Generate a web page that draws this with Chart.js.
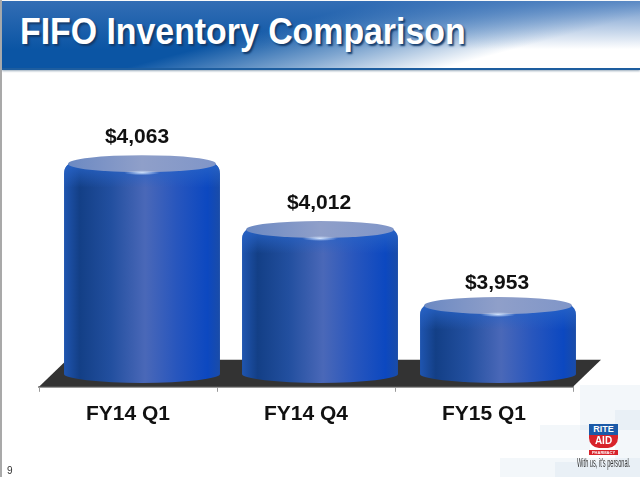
<!DOCTYPE html>
<html>
<head>
<meta charset="utf-8">
<title>FIFO Inventory Comparison</title>
<script src="https://cdn.jsdelivr.net/npm/chart.js@4/dist/chart.umd.min.js"></script>
<style>
  html, body { margin: 0; padding: 0; background: #fff; }
  #slide { position: relative; width: 640px; height: 477px; overflow: hidden; background: #fff; font-family: "Liberation Sans", Arial, sans-serif; }
  #edge { position: absolute; left: 0; top: 0; width: 2px; height: 477px; background: #a9a9a9; }
  #band {
    position: absolute; left: 2px; top: 1px; width: 638px; height: 67px;
    background:
      linear-gradient(to bottom, rgba(60,115,185,.8) 0, rgba(70,125,190,0) 72%),
      linear-gradient(165deg, #0b55a4 0, #0b55a4 42%, #7fa6d0 60%, #ffffff 78%);
    border-bottom: 2px solid #1d5d9f;
    box-shadow: 0 1px 2px #9ab;
  }
  #heading {
    position: absolute; left: 20px; top: 11px; color: #fff;
    font-weight: bold; font-size: 36px; line-height: 42px; white-space: nowrap; text-shadow: 2px 2px 2px #123a6b;
    transform: scaleX(0.94); transform-origin: left center;
  }
  #pageNo { position: absolute; left: 7px; top: 465px; font-size: 10px; color: #333; }
  .tile { position: absolute; background: #c9d9ea; opacity: .22; }
  #chart { position: absolute; left: 0; top: 0; }
  #logoRite { position: absolute; left: 589px; top: 424px; width: 29px; height: 11px; background: #1b5aa8; color: #fff; font: bold 9px/11px "Liberation Sans", sans-serif; text-align: center; }
  #logoAid { position: absolute; left: 589px; top: 435px; width: 29px; height: 13px; background: #d8232a; color: #fff; font: bold 10px/12px "Liberation Sans", sans-serif; text-align: center; border-radius: 0 0 10px 10px; }
  #logoPharmacy { position: absolute; left: 589px; top: 450px; width: 29px; height: 5px; background: #d8232a; color: #fff; font: bold 4px/5px "Liberation Sans", sans-serif; text-align: center; overflow: hidden; }
  #tagline { position: absolute; left: 577px; top: 457px; font: 12px/12px "Liberation Sans", sans-serif; color: #333; white-space: nowrap; transform: scaleX(0.47); transform-origin: left center; }
</style>
</head>
<body>
<div id="slide">
  <div class="tile" style="left:580px;top:385px;width:60px;height:45px"></div>
  <div class="tile" style="left:540px;top:425px;width:50px;height:25px"></div>
  <div class="tile" style="left:615px;top:410px;width:25px;height:67px"></div>
  <div class="tile" style="left:500px;top:458px;width:140px;height:19px"></div>
  <div class="tile" style="left:555px;top:462px;width:60px;height:15px"></div>
  <div id="edge"></div>
  <div id="band"></div>
  <div id="heading">FIFO Inventory Comparison</div>
  <canvas id="chart" width="640" height="477"></canvas>
  <div id="logoRite">RITE</div>
  <div id="logoAid">AID</div>
  <div id="logoPharmacy">PHARMACY</div>
  <div id="tagline">With us, it's personal.</div>
  <div id="pageNo">9</div>
</div>
<script>
const categories = ["FY14 Q1", "FY14 Q4", "FY15 Q1"];
const inventory = [4063, 4012, 3953];
const valueLabels = ["$4,063", "$4,012", "$3,953"];
const axisMin = 3890;
const axisMax = 4100;
const barBase = 3900;

const depth = 28; // how far the floor is pushed back to the right
const barShift = 14;
const labelGaps = [27, 26, 22];
const labelNudges = [-5, -1, -1];
const labelFont = 'bold 21px "Liberation Sans", Arial, sans-serif';

function sideGradient(ctx, left, right) {
  const g = ctx.createLinearGradient(left, 0, right, 0);
  g.addColorStop(0, "#1f55b0");
  g.addColorStop(0.1, "#133f86");
  g.addColorStop(0.3, "#224f9f");
  g.addColorStop(0.52, "#4a68b8");
  g.addColorStop(0.72, "#2856bd");
  g.addColorStop(0.92, "#0c48c0");
  g.addColorStop(1, "#1a4ca8");
  return g;
}

function drawCylinder(ctx, cx, width, top, bottom) {
  const rx = width / 2;
  const ry = 9;
  const left = cx - rx;
  const right = cx + rx;

  // body
  ctx.beginPath();
  ctx.moveTo(left, top + 10);
  ctx.quadraticCurveTo(left, top - 1, left + 14, top - 3);
  ctx.lineTo(right - 14, top - 3);
  ctx.quadraticCurveTo(right, top - 1, right, top + 10);
  ctx.lineTo(right, bottom);
  ctx.ellipse(cx, bottom, rx, ry, 0, 0, Math.PI);
  ctx.closePath();
  ctx.fillStyle = sideGradient(ctx, left, right);
  ctx.fill();

  // lighter shoulder under the lid
  ctx.save();
  ctx.clip();
  const rim = ctx.createLinearGradient(0, top, 0, top + 24);
  rim.addColorStop(0, "rgba(40,100,200,.9)");
  rim.addColorStop(1, "rgba(40,100,200,0)");
  ctx.fillStyle = rim;
  ctx.fillRect(left, top - 3, width, 27);
  ctx.restore();

  // lid
  const lid = ctx.createLinearGradient(left, 0, right, 0);
  lid.addColorStop(0, "#6a88c2");
  lid.addColorStop(0.5, "#8f9fc9");
  lid.addColorStop(1, "#7f95c8");
  ctx.beginPath();
  ctx.ellipse(cx, top, rx - 4, 8.5, 0, 0, Math.PI * 2);
  ctx.fillStyle = lid;
  ctx.fill();

  // small shine on the rim
  ctx.save();
  ctx.translate(cx, top + 9);
  ctx.scale(1, 0.14);
  const shine = ctx.createRadialGradient(0, 0, 0, 0, 0, 18);
  shine.addColorStop(0, "rgba(215,232,255,.95)");
  shine.addColorStop(1, "rgba(215,232,255,0)");
  ctx.fillStyle = shine;
  ctx.beginPath();
  ctx.arc(0, 0, 18, 0, Math.PI * 2);
  ctx.fill();
  ctx.restore();
}

const floorPlugin = {
  id: "floor",
  beforeDatasetsDraw(chart) {
    const { ctx, scales } = chart;
    const front = scales.y.bottom;
    const back = front - 27;
    ctx.save();
    ctx.beginPath();
    ctx.moveTo(scales.x.left, front);
    ctx.lineTo(scales.x.left + depth, back);
    ctx.lineTo(scales.x.right + depth, back);
    ctx.lineTo(scales.x.right, front);
    ctx.closePath();
    ctx.fillStyle = "#333333";
    ctx.fill();
    ctx.restore();
  },
};

const cylinderPlugin = {
  id: "cylinders",
  afterDatasetsDraw(chart) {
    const { ctx } = chart;
    const bars = chart.getDatasetMeta(0).data;
    ctx.save();
    bars.forEach((bar, i) => {
      drawCylinder(ctx, bar.x + barShift, bar.width, bar.y, bar.base);
      ctx.fillStyle = "#111";
      ctx.font = labelFont;
      ctx.textAlign = "center";
      ctx.textBaseline = "middle";
      ctx.fillText(valueLabels[i], bar.x + barShift + labelNudges[i], bar.y - labelGaps[i]);
    });
    ctx.restore();
  },
};

new Chart(document.getElementById("chart"), {
  type: "bar",
  data: {
    labels: categories,
    datasets: [
      {
        data: inventory,
        base: barBase,
        backgroundColor: "rgba(0,0,0,0)",
        barPercentage: 0.876,
        categoryPercentage: 1,
      },
    ],
  },
  options: {
    responsive: false,
    animation: false,
    devicePixelRatio: 1,
    layout: { padding: { left: 39, right: 67, top: 116, bottom: 40 } },
    plugins: { legend: { display: false }, tooltip: { enabled: false } },
    scales: {
      x: {
        grid: { drawOnChartArea: false, color: "#999", tickLength: 5 },
        border: { color: "#999", width: 2 },
        ticks: { color: "#111", padding: 10, font: { family: '"Liberation Sans", Arial, sans-serif', size: 21, weight: "bold" } },
      },
      y: { display: false, min: axisMin, max: axisMax },
    },
  },
  plugins: [floorPlugin, cylinderPlugin],
});
</script>
</body>
</html>
